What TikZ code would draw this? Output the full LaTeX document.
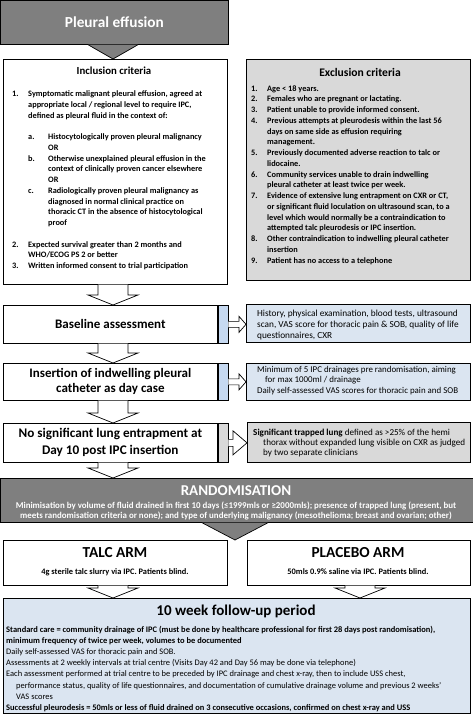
\documentclass[tikz,border=0pt]{standalone}
\usepackage{fontspec}
\setmainfont{Carlito}
\usetikzlibrary{positioning,calc}

\definecolor{bandgray}{HTML}{7F7F7F}
\definecolor{boxgray}{HTML}{D9D9D9}
\definecolor{boxblue}{HTML}{DBE5F1}
\definecolor{stripblue}{HTML}{C6D9F1}

% lines of text, baseline at the first line
\newcommand{\txtlines}[2]{\begin{tabular}[t]{@{}#1@{}}#2\end{tabular}}
% list lines with hanging numbers
\newcommand{\crit}[2]{\makebox[16pt][l]{#1}#2}
\newcommand{\critc}[1]{\hspace*{16pt}#1}
\newcommand{\subcrit}[2]{\hspace*{16pt}\makebox[20pt][l]{#1}#2}
\newcommand{\subcritc}[1]{\hspace*{36pt}#1}

% block arrow going down from #1 to #2 at x=#3
\newcommand{\downblk}[3]{%
  \draw[blockarrow] let \p1=(#1.south), \p2=(#2.north) in
    (#3pt-15pt,\y1) -- (#3pt-15pt,\y2+10pt) -- (#3pt-25pt,\y2+10pt) -- (#3pt,\y2)
    -- (#3pt+25pt,\y2+10pt) -- (#3pt+15pt,\y2+10pt) -- (#3pt+15pt,\y1);}
% grey arrow head below a dark band
\newcommand{\grayhead}[4]{%
  \draw[grayhd] let \p1=(#1.south), \p2=(#2.north) in
    (#3pt-#4pt,\y1) -- (#3pt,\y2) -- (#3pt+#4pt,\y1);}
% block arrow going right, #3 half height of head, #4 head length, #5 half shaft
\newcommand{\rightblk}[5]{%
  \draw[blockarrow] let \p1=(#1.east), \p2=(#2.west) in
    (\x1,\y1+#5pt) -- (\x2-#4pt,\y1+#5pt) -- (\x2-#4pt,\y1+#3pt) -- (\x2,\y1)
    -- (\x2-#4pt,\y1-#3pt) -- (\x2-#4pt,\y1-#5pt) -- (\x1,\y1-#5pt);}

\begin{document}
\begin{tikzpicture}[x=1pt,y=-1pt,
    every node/.style={inner sep=0pt},
    box/.style={draw, line width=0.7pt, anchor=north west},
    hdrbox/.style={box, fill=bandgray, text=white, font=\bfseries},
    whitebox/.style={box, fill=white, align=center},
    greybox/.style={box, fill=boxgray},
    bluebox/.style={box, fill=boxblue},
    stripb/.style={box, fill=stripblue, minimum width=10pt},
    stripg/.style={box, fill=boxgray, minimum width=10pt},
    crittext/.style={anchor=base west, font=\fontsize{8.3}{10.75}\selectfont\bfseries},
    bluetext/.style={anchor=base west, font=\fontsize{9.3}{11}\selectfont},
    blockarrow/.style={draw, fill=white, line width=0.7pt, line join=miter},
    grayhd/.style={draw, fill=bandgray, line width=0.7pt, line join=miter}]
\useasboundingbox (0,0) rectangle (473,715);

% top
\node[hdrbox, minimum width=228pt, minimum height=44pt,
      font=\fontsize{15.3}{17}\selectfont\bfseries] (pleural) at (0,0) {Pleural effusion};

% inclusion / exclusion
\node[whitebox, minimum width=224pt, minimum height=225pt] (incl) at (3,59) {};
\node[font=\fontsize{10.8}{12}\selectfont\bfseries] (incltitle) at (114,71) {Inclusion criteria};
\node[crittext] (incllist) at (12,96.5) {\txtlines{l}{%
  \crit{1.}{Symptomatic malignant pleural effusion, agreed at}\\
  \critc{appropriate local / regional level to require IPC,}\\
  \critc{defined as pleural fluid in the context of:}\\
  ~\\
  \subcrit{a.}{Histocytologically proven pleural malignancy}\\
  \subcritc{OR}\\
  \subcrit{b.}{Otherwise unexplained pleural effusion in the}\\
  \subcritc{context of clinically proven cancer elsewhere}\\
  \subcritc{OR}\\
  \subcrit{c.}{Radiologically proven pleural malignancy as}\\
  \subcritc{diagnosed in normal clinical practice on}\\
  \subcritc{thoracic CT in the absence of histocytological}\\
  \subcritc{proof}\\
  ~\\
  \crit{2.}{Expected survival greater than 2 months and}\\
  \critc{WHO/ECOG PS 2 or better}\\
  \crit{3.}{Written informed consent to trial participation}}};

\node[greybox, minimum width=224pt, minimum height=221pt] (excl) at (246,59) {};
\node[font=\fontsize{11.6}{13}\selectfont\bfseries] (excltitle) at (360,72) {Exclusion criteria};
\node[crittext] (excllist) at (251,91) {\txtlines{l}{%
  \crit{1.}{Age < 18 years.}\\
  \crit{2.}{Females who are pregnant or lactating.}\\
  \crit{3.}{Patient unable to provide informed consent.}\\
  \crit{4.}{Previous attempts at pleurodesis within the last 56}\\
  \critc{days on same side as effusion requiring}\\
  \critc{management.}\\
  \crit{5.}{Previously documented adverse reaction to talc or}\\
  \critc{lidocaine.}\\
  \crit{6.}{Community services unable to drain indwelling}\\
  \critc{pleural catheter at least twice per week.}\\
  \crit{7.}{Evidence of extensive lung entrapment on CXR or CT,}\\
  \critc{or significant fluid loculation on ultrasound scan, to a}\\
  \critc{level which would normally be a contraindication to}\\
  \critc{attempted talc pleurodesis or IPC insertion.}\\
  \crit{8.}{Other contraindication to indwelling pleural catheter}\\
  \critc{insertion}\\
  \crit{9.}{Patient has no access to a telephone}}};

% baseline
\node[whitebox, minimum width=214pt, minimum height=38pt,
      font=\fontsize{13}{15}\selectfont\bfseries] (base) at (3,305) {Baseline assessment};
\node[stripb, minimum height=38pt] (basestrip) at (base.north east) {};
\node[bluebox, minimum width=224pt, minimum height=38pt] (hist) at (246,304) {};
\node[bluetext] (histtext) at (257,316) {\txtlines{l}{%
  History, physical examination, blood tests, ultrasound\\
  scan, VAS score for thoracic pain \& SOB, quality of life\\
  questionnaires, CXR}};

% insertion
\node[whitebox, minimum width=214pt, minimum height=37pt,
      font=\fontsize{13}{15}\selectfont\bfseries] (ipc) at (3,363)
      {Insertion of indwelling pleural\\catheter as day case};
\node[stripb, minimum height=37pt] (ipcstrip) at (ipc.north east) {};
\node[bluebox, minimum width=224pt, minimum height=37pt] (drain) at (246,363) {};
\node[bluetext, font=\fontsize{8.9}{10.6}\selectfont] (draintext) at (257,372) {\txtlines{l}{%
  Minimum of 5 IPC drainages pre randomisation, aiming\\
  \hspace*{8pt}for max 1000ml / drainage\\
  Daily self-assessed VAS scores for thoracic pain and SOB}};

% no trapped lung
\node[whitebox, minimum width=214pt, minimum height=39pt,
      font=\fontsize{13.2}{17}\selectfont\bfseries] (nolung) at (3,423)
      {No significant lung entrapment at\\Day 10 post IPC insertion};
\node[stripg, minimum height=39pt] (nolungstrip) at (nolung.north east) {};
\node[greybox, minimum width=223pt, minimum height=40pt] (trap) at (247,422) {};
\node[bluetext, font=\fontsize{9.1}{10.2}\selectfont] (traptext) at (253,435.5) {\txtlines{l}{%
  \textbf{Significant trapped lung} defined as >25\% of the hemi\\
  \hspace*{10pt}thorax without expanded lung visible on CXR as judged\\
  \hspace*{10pt}by two separate clinicians}};

% randomisation
\node[hdrbox, minimum width=473pt, minimum height=44pt] (rand) at (0,478) {};
\node[text=white, font=\fontsize{15}{17}\selectfont\bfseries] (randtitle) at (236,491) {RANDOMISATION};
\node[anchor=base, text=white, font=\fontsize{8.9}{9.6}\selectfont\bfseries] (randtext) at (236,508.5) {\txtlines{c}{%
  Minimisation by volume of fluid drained in first 10 days (≤1999mls or ≥2000mls); presence of trapped lung (present, but\\
  meets randomisation criteria or none); and type of underlying malignancy (mesothelioma; breast and ovarian; other)}};

% arms
\node[box, fill=white, minimum width=224pt, minimum height=45pt] (talc) at (3,540) {};
\node[font=\fontsize{15.3}{17}\selectfont\bfseries] (talctitle) at (115,553) {TALC ARM};
\node[font=\fontsize{8.4}{10}\selectfont\bfseries] (talctext) at (115,572) {4g sterile talc slurry via IPC. Patients blind.};
\node[box, fill=white, minimum width=223pt, minimum height=45pt] (plac) at (247,540) {};
\node[font=\fontsize{15.3}{17}\selectfont\bfseries] (plactitle) at (358,553) {PLACEBO ARM};
\node[font=\fontsize{8.4}{10}\selectfont\bfseries] (plactext) at (358,572) {50mls 0.9\% saline via IPC. Patients blind.};

% follow-up
\node[bluebox, minimum width=467pt, minimum height=115pt] (follow) at (3,598) {};
\node[font=\fontsize{15}{17}\selectfont\bfseries] (followtitle) at (236,611) {10 week follow-up period};
\node[bluetext, font=\fontsize{8.45}{11.1}\selectfont] (followtext) at (6,632.5) {\txtlines{l}{%
  \textbf{Standard care = community drainage of IPC (must be done by healthcare professional for first 28 days post randomisation),}\\
  \textbf{minimum frequency of twice per week, volumes to be documented}\\
  Daily self-assessed VAS for thoracic pain and SOB.\\
  Assessments at 2 weekly intervals at trial centre (Visits Day 42 and Day 56 may be done via telephone)\\
  Each assessment performed at trial centre to be preceded by IPC drainage and chest x-ray, then to include USS chest,\\
  \hspace*{10pt}performance status, quality of life questionnaires, and documentation of cumulative drainage volume and previous 2 weeks'\\
  \hspace*{10pt}VAS scores\\
  \textbf{Successful pleurodesis = 50mls or less of fluid drained on 3 consecutive occasions, confirmed on chest x-ray and USS}}};

% arrows
\grayhead{pleural}{incl}{113}{25}
\downblk{incl}{base}{113}
\downblk{base}{ipc}{113}
\downblk{ipc}{nolung}{113}
\downblk{nolung}{rand}{113}
\grayhead{rand}{talc}{235}{33}
\downblk{talc}{follow}{113}
\downblk{plac}{follow}{360}
\rightblk{basestrip}{hist}{8}{7}{3}
\rightblk{ipcstrip}{drain}{8}{7}{3}
\rightblk{nolungstrip}{trap}{12}{14}{3.5}
\end{tikzpicture}
\end{document}
